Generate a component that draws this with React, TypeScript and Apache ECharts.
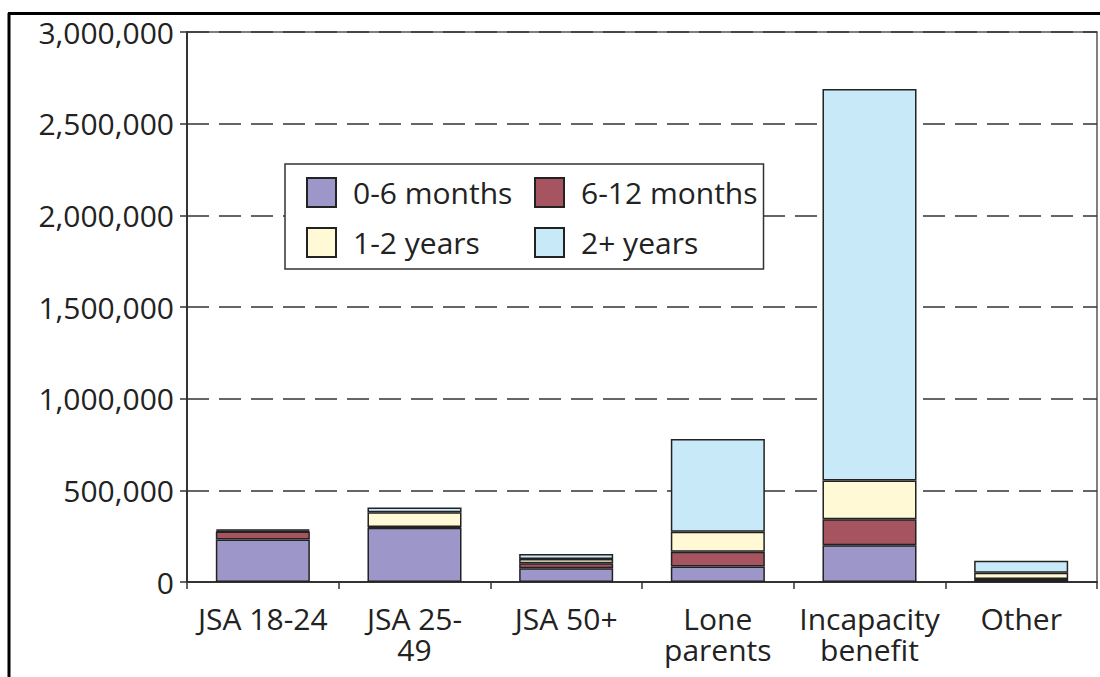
import React, { useEffect, useRef } from "react";
import * as echarts from "echarts";

const categories = ["JSA 18-24", "JSA 25-49", "JSA 50+", "Lone parents", "Incapacity benefit", "Other"];
const categoryLabels = ["JSA 18-24", "JSA 25-\n49", "JSA 50+", "Lone\nparents", "Incapacity\nbenefit", "Other"];
const seriesNames = ["0-6 months", "6-12 months", "1-2 years", "2+ years"];
const months0to6 = [232000, 296000, 75000, 84000, 200000, 5000];
const months6to12 = [43000, 4000, 27000, 81000, 142000, 12000];
const years1to2 = [5000, 80000, 23000, 109000, 211000, 34000];
const years2plus = [6000, 27000, 28000, 506000, 2136000, 65000];
const seriesColors = ["#9d96c8", "#a65460", "#fffad5", "#c8e9f8"];
const yTicks = { min: 0, max: 3000000, interval: 500000 };

const FONT = "'Open Sans', 'Noto Sans', sans-serif";

export default function App() {
  const ref = useRef<HTMLDivElement>(null);
  useEffect(() => {
    if (!ref.current) return;
    const chart = echarts.init(ref.current, undefined, { renderer: "svg" });
    const values = [months0to6, months6to12, years1to2, years2plus];
    chart.setOption({
      animation: false,
      backgroundColor: "#ffffff",
      textStyle: { fontFamily: FONT },
      grid: {
        left: 187,
        right: 3,
        top: 32,
        bottom: 95,
        show: true,
        borderColor: "#555",
        borderWidth: 1.5,
        backgroundColor: "transparent",
      },
      legend: {
        left: 285,
        top: 164,
        width: 560,
        orient: "horizontal",
        padding: [13, 6, 11, 21],
        backgroundColor: "#ffffff",
        borderColor: "#333",
        borderWidth: 1.5,
        itemWidth: 29,
        itemHeight: 29,
        itemGap: 19,
        icon: "rect",
        data: seriesNames,
        textStyle: {
          fontFamily: FONT,
          fontSize: 30,
          color: "#222",
          width: 162,
          lineHeight: 29,
          padding: [0, 0, 0, 12],
        },
      },
      xAxis: {
        type: "category",
        data: categories,
        axisLine: { show: true, lineStyle: { color: "#333", width: 2 } },
        axisTick: { show: true, length: 7, lineStyle: { color: "#333", width: 1.5 } },
        axisLabel: {
          interval: 0,
          fontFamily: FONT,
          fontSize: 30,
          lineHeight: 31,
          color: "#222",
          margin: 21,
          formatter: (_v: string, i: number) => categoryLabels[i],
        },
      },
      yAxis: {
        type: "value",
        min: yTicks.min,
        max: yTicks.max,
        interval: yTicks.interval,
        axisLine: { show: true, lineStyle: { color: "#333", width: 2 } },
        axisTick: { show: true, length: 7, lineStyle: { color: "#333", width: 1.5 } },
        axisLabel: {
          fontFamily: FONT,
          fontSize: 30,
          color: "#222",
          margin: 13,
          formatter: (v: number) => v.toLocaleString("en-US"),
        },
        splitLine: {
          show: true,
          lineStyle: { color: "#333", width: 1.5, type: [22, 10] },
        },
      },
      series: seriesNames.map((name, i) => ({
        name,
        type: "bar",
        stack: "total",
        barWidth: "62%",
        data: values[i],
        itemStyle: { color: seriesColors[i], borderColor: "#222", borderWidth: 1.5 },
      })),
      graphic: [
        {
          type: "line",
          shape: { x1: 8, y1: 13.5, x2: 1100, y2: 13.5 },
          style: { stroke: "#000", lineWidth: 3 },
          z: 100,
        },
        {
          type: "line",
          shape: { x1: 9, y1: 13, x2: 9, y2: 677 },
          style: { stroke: "#000", lineWidth: 3 },
          z: 100,
        },
      ],
    });
    return () => chart.dispose();
  }, []);
  return (
    <div
      ref={ref}
      style={{ position: "absolute", left: 0, top: 0, width: 1100, height: 677, background: "#fff" }}
    />
  );
}
